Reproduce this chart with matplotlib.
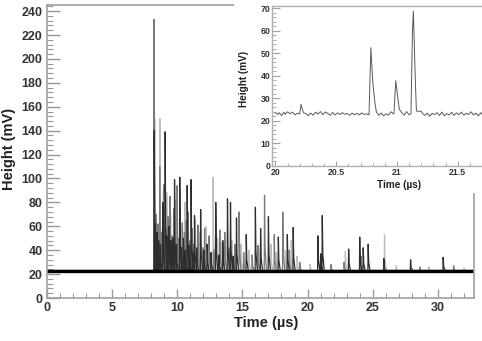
import matplotlib
matplotlib.use("Agg")
import matplotlib.pyplot as plt
from matplotlib.patches import Rectangle
from matplotlib.ticker import MultipleLocator

plt.rcParams['font.family'] = ['Liberation Sans', 'DejaVu Sans']
plt.rcParams['font.weight'] = 'bold'

# main trace: baseline level and spike peaks (time in us, height in mV), three overlaid waveforms
baseline_mv = 23
t_start, t_end = 0.0, 32.75

dark_t = [8.24, 8.32, 8.45, 8.58, 8.72, 8.9, 9.08, 9.22, 9.36, 9.52, 9.66, 9.8, 9.95,
          10.2, 10.33, 10.48, 10.62, 10.77, 10.92, 11.07, 11.2, 11.33, 11.5, 11.8, 12.05,
          12.3, 12.6, 12.96, 13.2, 13.5, 13.86, 14.09, 14.3, 14.55, 15.3, 16.0, 16.4, 17.0,
          17.76, 18.45, 18.9, 20.79, 21.0, 21.13, 23.15, 24.0, 24.27, 24.65, 25.85, 27.9, 30.4]
dark_h = [140, 62, 55, 48, 45, 80, 139, 52, 60, 48, 50, 99, 45,
          101, 42, 50, 40, 94, 44, 99, 38, 69, 42, 74, 40,
          45, 38, 80, 36, 48, 83, 80, 35, 67, 53, 76, 58, 68,
          51, 53, 59, 52, 37, 69, 41, 51, 42, 45, 33, 32, 34]

mid_t = [8.22, 8.38, 8.52, 8.66, 8.82, 9.0, 9.15, 9.3, 9.45, 9.6, 9.75, 10.0, 10.12,
         10.4, 10.56, 10.7, 10.85, 11.0, 11.15, 11.28, 11.6, 11.95, 12.1, 12.45, 12.8,
         13.27, 13.65, 14.0, 14.42, 14.75, 15.1, 15.75, 16.2, 16.7, 17.45, 18.1, 18.6,
         19.4, 21.8, 22.8, 24.1, 28.6, 31.2]
mid_h = [233, 70, 62, 110, 55, 95, 58, 68, 85, 52, 75, 94, 50,
         63, 55, 65, 72, 48, 58, 45, 61, 42, 58, 52, 40,
         57, 55, 42, 45, 72, 38, 36, 44, 86, 53, 72, 40,
         30, 28, 30, 35, 26, 27]

light_t = [8.28, 8.68, 8.95, 9.2, 9.5, 9.9, 10.3, 10.6, 11.4, 11.7, 12.2, 12.76, 13.1,
           13.4, 14.2, 14.9, 15.5, 16.25, 17.2, 17.6, 18.3, 18.75, 19.2, 20.2, 22.9,
           25.9, 26.8, 29.3, 32.0]
light_h = [150, 150, 90, 88, 70, 82, 60, 80, 66, 55, 60, 101, 50,
           46, 48, 45, 40, 42, 45, 38, 40, 48, 35, 28, 39,
           53, 27, 26, 25]

# inset: zoom on 20 - 21.7 us
inset_t = [20.00, 20.02, 20.03, 20.05, 20.07, 20.08, 20.10, 20.12, 20.14, 20.16, 20.18,
           20.20, 20.21, 20.23, 20.25, 20.27, 20.29, 20.31, 20.33, 20.35, 20.37, 20.39,
           20.41, 20.43, 20.45, 20.47, 20.49, 20.51, 20.53, 20.55, 20.57, 20.59, 20.61,
           20.63, 20.65, 20.67, 20.69, 20.71, 20.73, 20.75, 20.77, 20.785, 20.80, 20.815,
           20.83, 20.85, 20.87, 20.89, 20.91, 20.93, 20.95, 20.975, 20.99, 21.005, 21.02,
           21.04, 21.06, 21.08, 21.10, 21.115, 21.128, 21.135, 21.15, 21.16, 21.20, 21.21,
           21.23, 21.25, 21.27, 21.29, 21.31, 21.33, 21.35, 21.37, 21.39, 21.41, 21.43,
           21.45, 21.47, 21.49, 21.51, 21.53, 21.55, 21.57, 21.59, 21.61, 21.63, 21.65,
           21.67, 21.69, 21.70]
inset_h = [23.5, 22.8, 23.6, 22.4, 23.8, 22.9, 24.0, 23.1, 23.9, 22.6, 23.4,
           23.0, 27.3, 23.6, 23.2, 22.3, 23.4, 22.5, 23.8, 23.0, 24.1, 22.7,
           23.9, 23.3, 22.4, 23.7, 22.6, 23.5, 22.8, 23.6, 22.9, 23.2, 22.4,
           23.4, 22.7, 23.3, 22.6, 23.5, 22.8, 23.1, 22.7, 52.5, 38.0, 29.5,
           24.0, 22.4, 23.4, 22.2, 23.1, 22.5, 24.0, 23.0, 37.8, 31.0, 25.0,
           23.6, 22.5, 24.1, 22.7, 23.0, 60.5, 68.8, 40.0, 24.3, 24.2, 23.3,
           22.4, 23.4, 22.0, 23.3, 22.8, 23.6, 22.3, 23.9, 22.2, 23.2, 22.6,
           23.8, 22.4, 23.5, 22.7, 23.9, 22.5, 23.3, 22.8, 24.0, 22.6, 23.4,
           22.2, 23.6, 22.9]


def pulse_trace(times, heights):
    # each peak drawn as a sharp rise with a short decaying tail back to baseline
    xs, ys = [t_start], [baseline_mv]
    for t, h in zip(times, heights):
        xs += [t - 0.02, t, t + 0.04, t + 0.15]
        ys += [baseline_mv, h, baseline_mv + 0.3 * (h - baseline_mv), baseline_mv]
    xs.append(t_end)
    ys.append(baseline_mv)
    return xs, ys


fig = plt.figure(figsize=(4.82, 3.41), dpi=100)
ax = fig.add_axes([0.097, 0.126, 0.886, 0.859])

for times, heights, col in [(light_t, light_h, '#bdbdbd'),
                            (mid_t, mid_h, '#7a7a7a'),
                            (dark_t, dark_h, '#2e2e2e')]:
    xs, ys = pulse_trace(times, heights)
    ax.plot(xs, ys, color=col, lw=0.9)
ax.plot([t_start, t_end], [baseline_mv, baseline_mv], color='black', lw=2.4)

ax.set_xlim(t_start, t_end)
ax.set_ylim(0, 245)
ax.xaxis.set_major_locator(MultipleLocator(5))
ax.xaxis.set_minor_locator(MultipleLocator(1))
ax.yaxis.set_major_locator(MultipleLocator(20))
ax.yaxis.set_minor_locator(MultipleLocator(4))
ax.tick_params(axis='both', which='both', direction='in', colors='#999999',
               labelcolor='#333333', labelsize=9)
ax.tick_params(axis='y', which='major', length=9, width=1, pad=3)
ax.tick_params(axis='y', which='minor', length=4.5, width=0.8)
ax.tick_params(axis='x', which='major', length=6.5, width=1, pad=3)
ax.tick_params(axis='x', which='minor', length=3.5, width=0.8)
for sp in ax.spines.values():
    sp.set_color('#a0a0a0')
    sp.set_linewidth(1.2)
ax.set_xlabel('Time (\u00b5s)', fontsize=10.5, fontweight='bold', color='#222222')
ax.set_ylabel('Height (mV)', fontsize=10.5, fontweight='bold', color='#222222')
ax.xaxis.set_label_coords(0.513, -0.062)
ax.yaxis.set_label_coords(-0.071, 0.51)

# white backing of the pasted inset
fig.add_artist(Rectangle((234 / 482, 1 - 193 / 341), 1 - 234 / 482, 193 / 341,
                         transform=fig.transFigure, facecolor='white',
                         edgecolor='none', zorder=1))

ins = fig.add_axes([0.564, 0.514, 0.436, 0.468])
ins.set_zorder(2)
ins.plot(inset_t, inset_h, color='#5a5a5a', lw=0.7)
ins.set_xlim(19.97, 21.7)
ins.set_ylim(0, 71)
ins.xaxis.set_major_locator(MultipleLocator(0.5))
ins.xaxis.set_minor_locator(MultipleLocator(0.1))
ins.yaxis.set_major_locator(MultipleLocator(10))
ins.yaxis.set_minor_locator(MultipleLocator(2))
ins.set_xticks([20, 20.5, 21, 21.5])
ins.set_xticklabels(['20', '20.5', '21', '21.5'])
ins.tick_params(axis='both', which='both', direction='in', colors='#a0a0a0',
                labelcolor='#333333', labelsize=6.3)
ins.tick_params(axis='y', which='major', length=5.5, width=0.8, pad=1)
ins.tick_params(axis='y', which='minor', length=2.8, width=0.6)
ins.tick_params(axis='x', which='major', length=3.5, width=0.8, pad=1.5)
ins.tick_params(axis='x', which='minor', length=2, width=0.6)
ins.spines['right'].set_visible(False)
for side in ['left', 'bottom', 'top']:
    ins.spines[side].set_color('#b0b0b0')
    ins.spines[side].set_linewidth(1.0)
ins.set_xlabel('Time (\u00b5s)', fontsize=7.2, fontweight='bold', color='#222222')
ins.set_ylabel('Height (mV)', fontsize=7.2, fontweight='bold', color='#222222')
ins.xaxis.set_label_coords(0.603, -0.09)
ins.yaxis.set_label_coords(-0.107, 0.543)

fig.savefig('out.png', dpi=100)
